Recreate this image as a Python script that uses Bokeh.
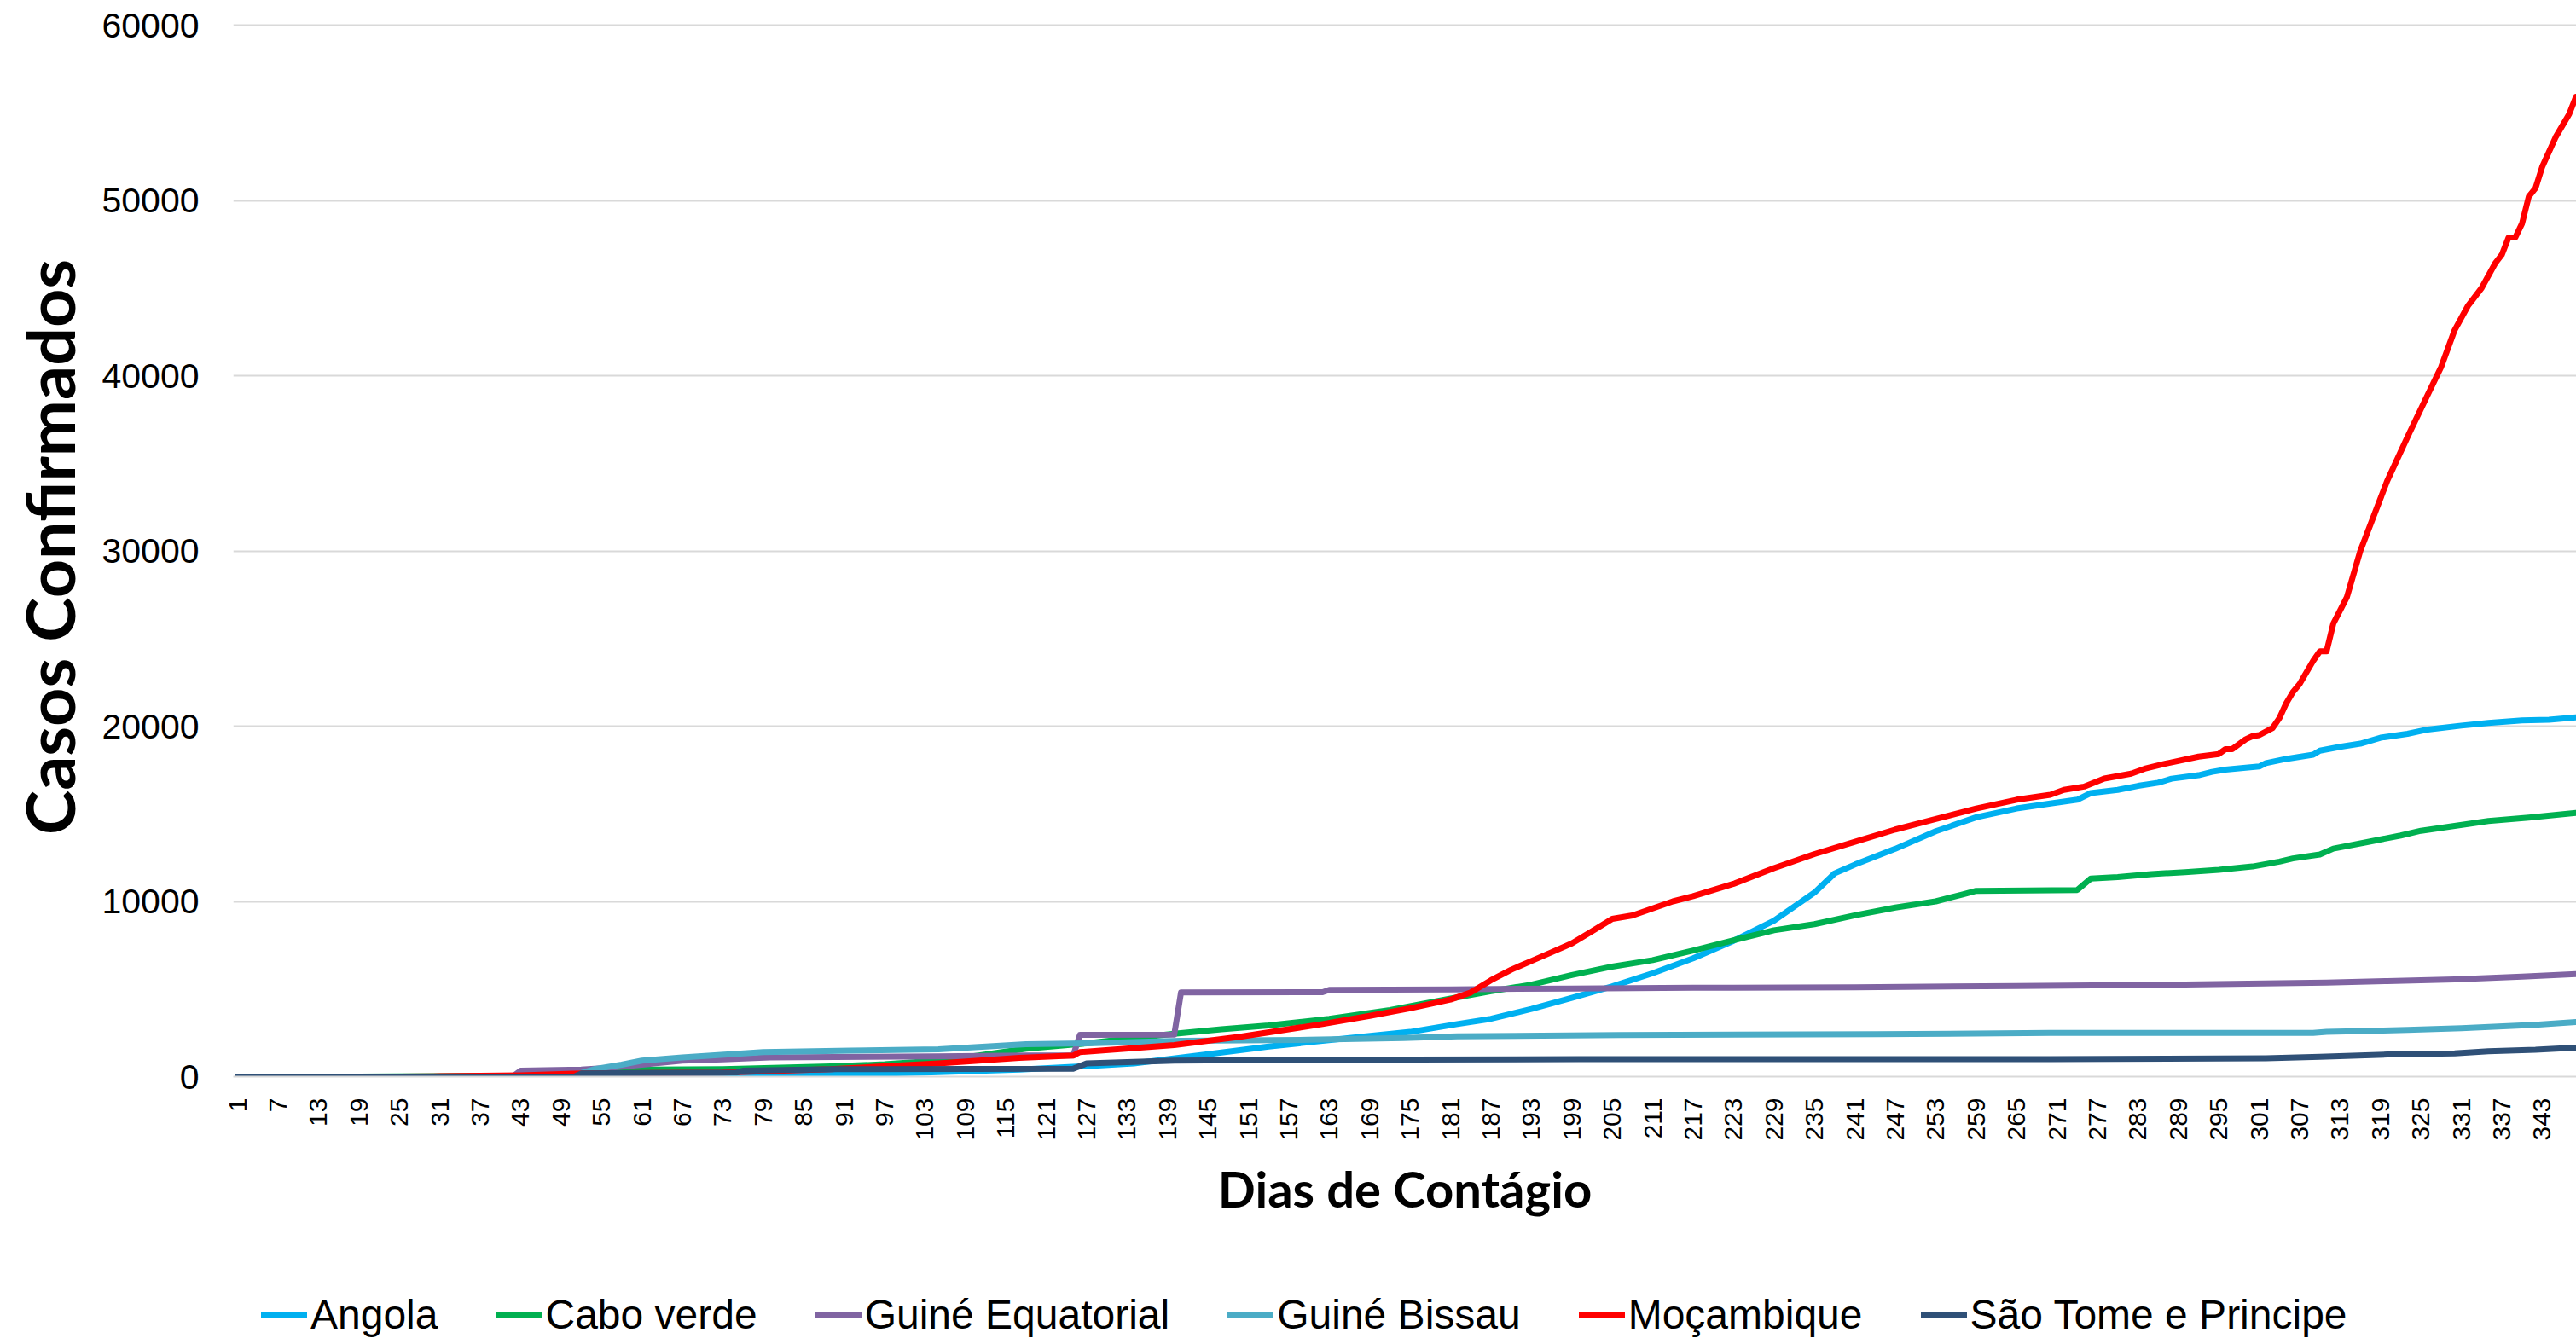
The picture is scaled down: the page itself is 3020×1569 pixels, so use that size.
import math
from bokeh.plotting import figure
from bokeh.layouts import column
from bokeh.models import Range1d, FixedTicker, BasicTickFormatter, Legend, LegendItem
from bokeh.embed import file_html
from bokeh.resources import INLINE

# ---------------- data ----------------
series_names = ["Angola", "Cabo verde", "Guiné Equatorial", "Guiné Bissau",
                "Moçambique", "São Tome e Principe"]
series_colors = ["#00B0F0", "#00B050", "#8064A2", "#4BACC6", "#FF0000", "#2F5077"]

angola_days = [1, 31, 43, 55, 67, 79, 91, 103, 117, 127, 134, 144, 154, 166, 175, 182, 187, 193, 199, 205,
               211, 217, 223, 229, 235, 238, 241, 247, 253, 259, 265, 270, 274, 276, 280, 283, 286, 288, 292, 294,
               296, 301, 302, 305, 309, 310, 313, 316, 319, 323, 326, 331, 335, 340, 344, 348]
angola_cases = [0, 5, 15, 25, 50, 90, 130, 230, 400, 600, 750, 1230, 1720, 2200, 2550, 3000, 3300, 3860, 4500, 5150,
                5900, 6750, 7750, 8900, 10500, 11600, 12100, 13000, 14000, 14800, 15300, 15580, 15800, 16180, 16360,
                16590, 16770, 17000, 17200, 17390, 17520, 17700, 17890, 18130, 18370, 18600, 18820, 19000, 19340,
                19560, 19810, 20030, 20180, 20330, 20370, 20500]

cabo_days = [1, 19, 31, 43, 52, 61, 73, 89, 97, 105, 111, 118, 127, 134, 140, 147, 154, 163, 172, 181,
             187, 193, 199, 205, 211, 217, 223, 229, 235, 241, 247, 253, 257, 259, 274, 276, 280, 285, 290, 295,
             300, 304, 306, 310, 312, 317, 322, 325, 330, 335, 341, 348]
cabo_cases = [0, 0, 20, 60, 260, 400, 420, 580, 700, 910, 1200, 1590, 1900, 2200, 2450, 2700, 2920, 3300, 3800, 4450,
              4870, 5250, 5800, 6280, 6650, 7200, 7780, 8350, 8700, 9200, 9650, 10000, 10400, 10600, 10650, 11300,
              11390, 11560, 11670, 11800, 11990, 12270, 12450, 12680, 13010, 13380, 13760, 14030, 14310, 14590,
              14780, 15050]

ge_days = [1, 37, 42, 43, 52, 56, 61, 67, 73, 80, 105, 118, 125, 126, 140, 141, 162, 163, 181, 199,
           217, 241, 265, 290, 311, 320, 330, 340, 348]
ge_cases = [0, 0, 60, 340, 400, 500, 680, 910, 990, 1100, 1150, 1200, 1200, 2380, 2400, 4800, 4820, 4950, 4980, 5030,
            5070, 5100, 5170, 5250, 5370, 5450, 5550, 5700, 5850]

gb_days = [1, 37, 50, 52, 54, 58, 61, 67, 79, 92, 105, 118, 127, 141, 160, 174, 182, 206, 244, 270,
           309, 311, 323, 331, 342, 348]
gb_cases = [0, 0, 50, 200, 430, 680, 910, 1100, 1400, 1480, 1560, 1850, 1900, 2040, 2100, 2200, 2300, 2370, 2420, 2490,
            2490, 2560, 2660, 2760, 2960, 3120]

moz_days = [1, 25, 31, 43, 52, 73, 89, 105, 117, 125, 126, 140, 150, 162, 169, 175, 181, 184, 187, 190,
            193, 196, 199, 202, 205, 208, 211, 214, 217, 223, 229, 235, 241, 247, 253, 259, 265, 270, 272, 275,
            278, 282, 284, 287, 292, 295, 296, 297, 299, 300, 301, 303, 304, 305, 306, 307, 309, 310, 311, 312,
            313, 314, 316, 320, 323, 326, 328, 330, 332, 334, 336, 337, 338, 339, 340, 341, 342, 343, 345, 347, 348]
moz_cases = [0, 0, 20, 70, 180, 230, 420, 750, 1070, 1200, 1400, 1800, 2290, 3000, 3470, 3900, 4400, 4800, 5500, 6100,
             6600, 7100, 7600, 8300, 9000, 9200, 9600, 10000, 10300, 11000, 11900, 12700, 13400, 14100, 14700, 15300,
             15800, 16080, 16360, 16550, 17010, 17290, 17570, 17850, 18260, 18410, 18690, 18690, 19250, 19430,
             19490, 19900, 20460, 21300, 21950, 22410, 23720, 24275, 24275, 25860, 26600, 27350, 30000, 34000,
             36500, 38900, 40500, 42600, 44000, 45000, 46400, 46900, 47880, 47880, 48680, 50220, 50700, 51920,
             53620, 54930, 55910]

stp_days = [1, 51, 52, 75, 76, 90, 125, 127, 140, 160, 200, 244, 270, 302, 310, 320, 330, 335, 342, 348]
stp_cases = [0, 0, 180, 230, 340, 420, 450, 750, 910, 960, 1000, 1000, 1000, 1050, 1130, 1260, 1330, 1450, 1530, 1660]

tick_days = list(range(1, 344, 6))
y_ticks = [0, 10000, 20000, 30000, 40000, 50000, 60000]

x_title = "Dias de Contágio"
y_title = "Casos Confirmados"

all_days = [angola_days, cabo_days, ge_days, gb_days, moz_days, stp_days]
all_cases = [angola_cases, cabo_cases, ge_cases, gb_cases, moz_cases, stp_cases]

LINE_W = 7

# ---------------- main chart ----------------
p = figure(width=3020, height=1510, output_backend="svg", toolbar_location=None,
           x_range=Range1d(0.367, 348.07), y_range=Range1d(0, 60438),
           min_border_left=273, min_border_right=0, min_border_top=20, min_border_bottom=248)
p.background_fill_color = "white"
p.border_fill_color = "white"
p.outline_line_color = None

for name, col, d, c in zip(series_names, series_colors, all_days, all_cases):
    p.line(d, c, line_width=LINE_W, line_color=col, line_cap="round", line_join="round")

# x axis
xa = p.xaxis[0]
xa.ticker = FixedTicker(ticks=tick_days)
xa.major_label_orientation = math.pi / 2
xa.major_label_text_font = "Liberation Sans"
xa.major_label_text_font_size = "30px"
xa.major_label_text_color = "black"
xa.major_tick_in = 0
xa.major_tick_out = 0
xa.minor_tick_line_color = None
xa.major_tick_line_color = None
xa.axis_line_color = "#D9D9D9"
xa.axis_line_width = 2
xa.major_label_standoff = 25
xa.axis_label = x_title
xa.axis_label_text_font = "Lato"
xa.axis_label_text_font_style = "bold"
xa.axis_label_text_font_size = "58px"
xa.axis_label_text_color = "black"
xa.axis_label_standoff = 18

# y axis
ya = p.yaxis[0]
ya.ticker = FixedTicker(ticks=y_ticks)
ya.formatter = BasicTickFormatter(use_scientific=False)
ya.major_label_text_font = "Liberation Sans"
ya.major_label_text_font_size = "41px"
ya.major_label_text_color = "black"
ya.major_tick_in = 0
ya.major_tick_out = 0
ya.major_tick_line_color = None
ya.minor_tick_line_color = None
ya.axis_line_color = None
ya.major_label_standoff = 40
ya.axis_label = y_title
ya.axis_label_text_font = "Lato"
ya.axis_label_text_font_style = "bold"
ya.axis_label_text_font_size = "79px"
ya.axis_label_text_color = "black"
ya.axis_label_standoff = 11

p.xgrid.grid_line_color = None
p.ygrid.grid_line_color = "#D9D9D9"
p.ygrid.grid_line_width = 2

# ---------------- legend strip (frame aligned with the chart frame) ----------------
p2 = figure(width=3020, height=59, output_backend="svg", toolbar_location=None,
            x_range=Range1d(0, 1), y_range=Range1d(0, 1),
            min_border_left=273, min_border_right=0, min_border_top=0, min_border_bottom=0,
            x_axis_type=None, y_axis_type=None)
p2.outline_line_color = None
p2.background_fill_color = "white"
p2.border_fill_color = "white"

items = []
for name, col in zip(series_names, series_colors):
    # sample renderers kept outside the strip's visible range; only their legend glyph shows
    r = p2.line(x=[-5, -4], y=[-5, -5], line_width=LINE_W, line_color=col, line_cap="round")
    items.append(LegendItem(label=name, renderers=[r]))

legend = Legend(items=items, location=(33, 0), orientation="horizontal",
                padding=0, margin=0, spacing=68, glyph_width=54, glyph_height=30,
                label_standoff=4, label_text_font="Liberation Sans", label_text_font_size="48px",
                label_text_color="black", border_line_color=None, background_fill_alpha=0)
p2.add_layout(legend)

layout = column(p, p2, spacing=0)
open("out.html", "w").write(file_html(layout, INLINE))
